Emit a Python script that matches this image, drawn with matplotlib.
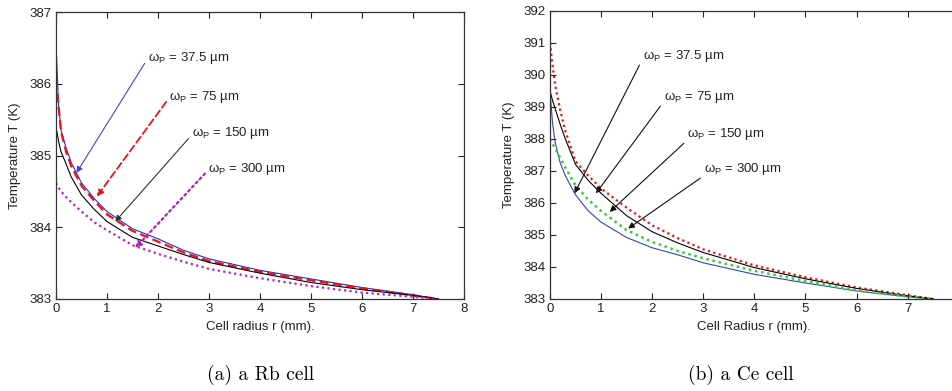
import matplotlib
matplotlib.use("Agg")
import matplotlib.pyplot as plt

plt.rcParams['font.family'] = ['Liberation Sans', 'DejaVu Sans']
plt.rcParams['mathtext.fontset'] = 'custom'
plt.rcParams['mathtext.rm'] = 'Liberation Sans'

# =========================
# DATA
# =========================
beams = ["37.5", "75", "150", "300"]

# (a) Rb cell
r_rb = [0, 0.05, 0.1, 0.2, 0.3, 0.5, 0.75, 1, 1.5, 2, 2.5, 3, 4, 5, 6, 7, 7.5]
rb_375 = [386.55, 385.7, 385.35, 385.1, 384.9, 384.62, 384.4, 384.22, 383.98, 383.84, 383.68, 383.56, 383.4, 383.28, 383.16, 383.06, 383.0]
rb_75 = [386.05, 385.68, 385.33, 385.05, 384.85, 384.58, 384.37, 384.18, 383.95, 383.8, 383.65, 383.53, 383.38, 383.26, 383.15, 383.05, 383.0]
rb_150 = [385.4, 385.2, 385.05, 384.88, 384.7, 384.45, 384.25, 384.08, 383.86, 383.74, 383.62, 383.51, 383.36, 383.23, 383.13, 383.05, 383.0]
rb_300 = [384.62, 384.55, 384.5, 384.42, 384.35, 384.22, 384.07, 383.96, 383.75, 383.63, 383.52, 383.42, 383.29, 383.18, 383.09, 383.03, 383.0]

# (b) Ce cell
r_ce = [0, 0.05, 0.1, 0.2, 0.3, 0.5, 0.75, 1, 1.5, 2, 2.5, 3, 4, 5, 6, 7, 7.5]
ce_375 = [389.5, 388.5, 387.9, 387.25, 386.85, 386.25, 385.75, 385.4, 384.92, 384.6, 384.38, 384.13, 383.77, 383.5, 383.25, 383.07, 383.0]
ce_75 = [391.0, 390.3, 389.7, 388.9, 388.25, 387.3, 386.85, 386.45, 385.85, 385.3, 384.9, 384.55, 384.05, 383.68, 383.36, 383.12, 383.0]
ce_150 = [389.5, 389.2, 388.95, 388.45, 388.0, 387.2, 386.7, 386.3, 385.6, 385.1, 384.75, 384.45, 383.98, 383.63, 383.33, 383.1, 383.0]
ce_300 = [388.0, 387.85, 387.7, 387.4, 387.1, 386.55, 386.1, 385.75, 385.15, 384.78, 384.5, 384.27, 383.88, 383.56, 383.27, 383.08, 383.0]

# annotation positions: (text x, text y, arrow tip x, arrow tip y)
rb_notes = [(1.8, 386.36, 0.40, 384.76), (2.22, 385.82, 0.80, 384.43),
            (2.66, 385.31, 1.16, 384.08), (2.98, 384.82, 1.55, 383.71)]
ce_notes = [(1.82, 390.6, 0.48, 386.3), (2.23, 389.32, 0.90, 386.3),
            (2.69, 388.16, 1.17, 385.72), (3.01, 387.07, 1.53, 385.2)]


def style_axes(ax):
    ax.tick_params(direction="in", top=True, right=True, length=4,
                   labelsize=9.5, colors="#222222", pad=3)
    for s in ax.spines.values():
        s.set_color("#333333")
        s.set_linewidth(0.9)


fig = plt.figure(figsize=(9.53, 3.91), dpi=100)

# =========================
# (a) Rb cell
# =========================
ax1 = fig.add_axes([0.0588, 0.2353, 0.4281, 0.7332])
ax1.plot(r_rb, rb_375, color="#2233cc", lw=0.8)
ax1.plot(r_rb, rb_75, color="#ee1111", lw=1.6, ls=(0, (4, 2)))
ax1.plot(r_rb, rb_150, color="black", lw=0.8)
ax1.plot(r_rb, rb_300, color="#bb22bb", lw=1.6, ls=(0, (1, 1.5)))
ax1.set_xlim(0, 8)
ax1.set_ylim(383, 387)
ax1.set_xticks(range(0, 9))
ax1.set_yticks(range(383, 388))
ax1.set_xlabel("Cell radius r (mm).", fontsize=9.5, color="#222222", labelpad=4)
ax1.set_ylabel("Temperature T (K)", fontsize=9.5, color="#222222", labelpad=6)
style_axes(ax1)

rb_arrow = [dict(color="#4444cc", ls="-", lw=0.8),
            dict(color="#ee1111", ls=(0, (4, 2)), lw=1.3),
            dict(color="#333333", ls="-", lw=0.8),
            dict(color="#aa22bb", ls=(0, (1, 1.5)), lw=1.6)]
for b, (tx, ty, ax_, ay), st in zip(beams, rb_notes, rb_arrow):
    ax1.annotate("", xy=(ax_, ay), xytext=(tx - 0.06, ty - 0.07),
                 arrowprops=dict(arrowstyle="-|>", mutation_scale=9,
                                 shrinkA=0, shrinkB=0, **st))
    ax1.text(tx, ty, "ω$_\\mathregular{P}$ = " + b + " µm", fontsize=9.5,
             color="#222222", va="center", ha="left")

# =========================
# (b) Ce cell
# =========================
ax2 = fig.add_axes([0.5771, 0.2353, 0.4290, 0.7373])
ax2.plot(r_ce, ce_375, color="#3344bb", lw=0.8)
ax2.plot(r_ce, ce_75, color="#ee1111", lw=1.6, ls=(0, (1, 1.5)))
ax2.plot(r_ce, ce_150, color="black", lw=0.8)
ax2.plot(r_ce, ce_300, color="#33cc33", lw=1.8, ls=(0, (1, 1.5)))
ax2.set_xlim(0, 8)
ax2.set_ylim(383, 392)
ax2.set_xticks(range(0, 8))
ax2.set_yticks(range(383, 393))
ax2.set_xlabel("Cell Radius r (mm).", fontsize=9.5, color="#222222", labelpad=4)
ax2.set_ylabel("Temperature T (K)", fontsize=9.5, color="#222222", labelpad=6)
style_axes(ax2)

for b, (tx, ty, ax_, ay) in zip(beams, ce_notes):
    ax2.annotate("", xy=(ax_, ay), xytext=(tx - 0.07, ty - 0.3),
                 arrowprops=dict(arrowstyle="-|>", mutation_scale=9,
                                 color="#111111", lw=0.8,
                                 shrinkA=0, shrinkB=0))
    ax2.text(tx, ty, "ω$_\\mathregular{P}$ = " + b + " µm", fontsize=9.5,
             color="#222222", va="center", ha="left")

# captions
fig.text(0.273, 0.04, "(a) a Rb cell", fontsize=14, family="cmr10",
         ha="center", va="center")
fig.text(0.777, 0.04, "(b) a Ce cell", fontsize=14, family="cmr10",
         ha="center", va="center")

fig.savefig("out.png", dpi=100)
